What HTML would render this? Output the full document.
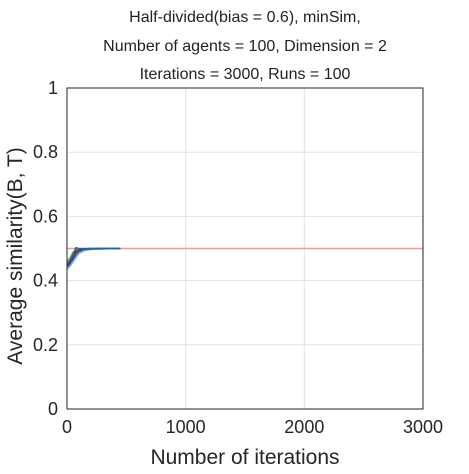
<!DOCTYPE html>
<html><head><meta charset="utf-8"><style>
body{margin:0;background:#fff;}
svg{font-family:"Liberation Sans",Arial,sans-serif;}
</style></head><body>
<svg id="chart" width="469" height="469" viewBox="0 0 469 469">
<rect width="469" height="469" fill="#fff"/>
<g id="title" font-size="16" fill="#222" text-anchor="middle">
<text x="245" y="22">Half-divided(bias = 0.6), minSim,</text>
<text x="245" y="51">Number of agents = 100, Dimension = 2</text>
<text x="245" y="79">Iterations = 3000, Runs = 100</text>
</g>
<g id="grid"></g>
<g id="series"></g>
<rect x="67" y="88" width="356" height="321" fill="none" stroke="#262626" stroke-width="1"/>
<g id="ticks" font-size="18" fill="#262626"></g>
<text x="245" y="464" font-size="21" fill="#262626" text-anchor="middle">Number of iterations</text>
<text transform="translate(22,256) rotate(-90)" font-size="21" fill="#262626" text-anchor="middle">Average similarity(B, T)</text>
</svg>
<script>
const xTicks=[0,1000,2000,3000];
const yTicks=[0,0.2,0.4,0.6,0.8,1];
const yTickLabels=["0","0.2","0.4","0.6","0.8","1"];
const runIters=[0,25,50,75,100,150,200,300,450];
const runA=[0.450,0.455,0.470,0.485,0.492,0.497,0.499,0.500,0.500];
const runB=[0.440,0.448,0.462,0.480,0.490,0.496,0.498,0.500,0.500];
const runC=[0.455,0.465,0.482,0.500,0.497,0.499,0.500,0.500,0.500];
const runD=[0.445,0.450,0.465,0.478,0.488,0.495,0.498,0.499,0.500];
const runE=[0.460,0.470,0.488,0.495,0.498,0.500,0.500,0.500,0.500];
const runF=[0.435,0.445,0.458,0.472,0.485,0.494,0.497,0.499,0.500];
const runG=[0.448,0.458,0.475,0.490,0.495,0.498,0.499,0.500,0.500];
const runH=[0.452,0.462,0.480,0.502,0.500,0.499,0.500,0.500,0.500];
const finalIters=[0,3000];
const finalValues=[0.5,0.5];
const runs=[runA,runB,runC,runD,runE,runF,runG,runH];
const colors=["#0072BD","#D95319","#EDB120","#7E2F8E","#77AC30","#4DBEEE","#A2142F","#0072BD"];
const X=v=>67+v/3000*356, Y=v=>409-v*321;
const ns="http://www.w3.org/2000/svg";
const grid=document.getElementById('grid'),ticks=document.getElementById('ticks'),series=document.getElementById('series');
function mk(tag,attrs,parent){const e=document.createElementNS(ns,tag);for(const k in attrs)e.setAttribute(k,attrs[k]);parent.appendChild(e);return e;}
xTicks.forEach((t,i)=>{
 const g=mk('line',{x1:X(t),x2:X(t),y1:88,y2:409,stroke:'#e3e3e3','stroke-width':1},grid);
 
 
 const tx=mk('text',{x:X(t),y:433,'text-anchor':'middle'},ticks);tx.textContent=String(t);
 
 
});
yTicks.forEach((t,i)=>{
 const g=mk('line',{x1:67,x2:423,y1:Y(t),y2:Y(t),stroke:'#e3e3e3','stroke-width':1},grid);
 
 
 const tx=mk('text',{x:58,y:Y(t)+6,'text-anchor':'end'},ticks);tx.textContent=yTickLabels[i];
 
 
});
const fl=mk('polyline',{points:finalIters.map((x,i)=>X(x)+','+Y(finalValues[i])).join(' '),fill:'none',stroke:'#F0A080','stroke-width':1.5},series);


runs.forEach((r,k)=>{
 const p=mk('polyline',{points:runIters.map((x,i)=>X(x)+','+Y(r[i])).join(' '),fill:'none',stroke:colors[k],'stroke-width':1.6},series);
 
 
});
</script>
</body></html>
